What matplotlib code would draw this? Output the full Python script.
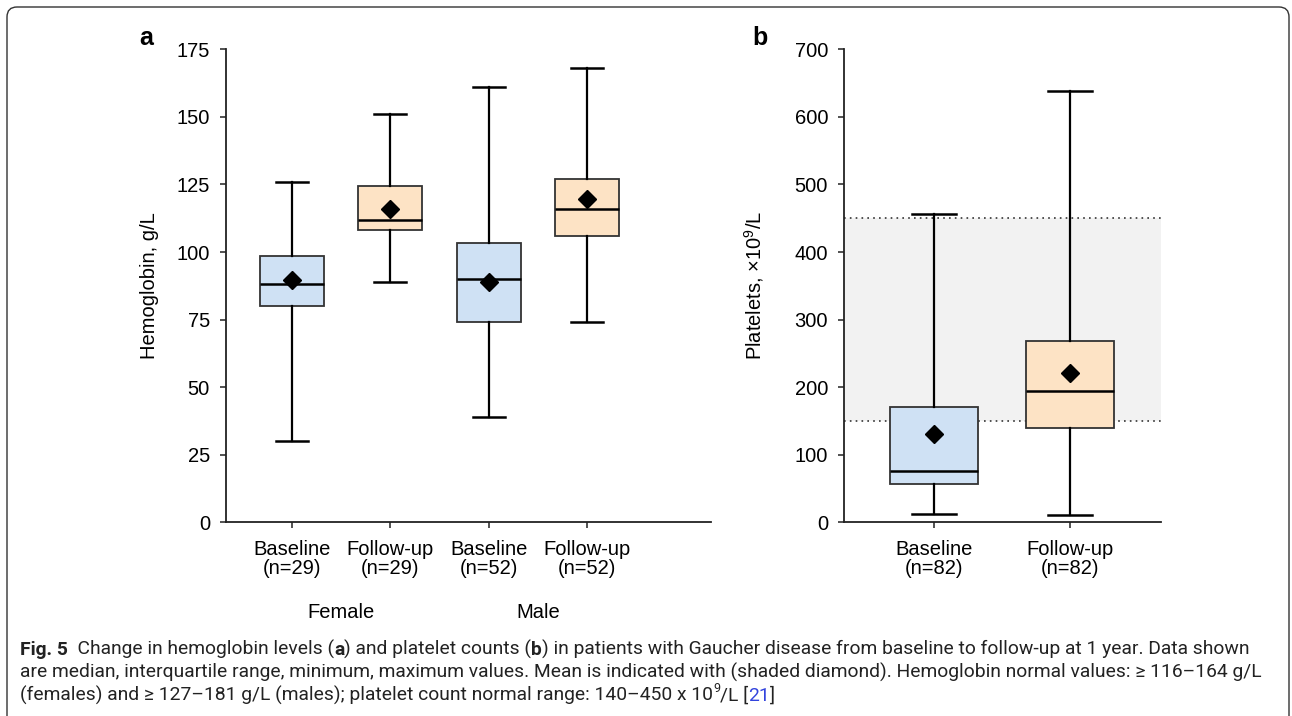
import matplotlib
matplotlib.use("Agg")
import matplotlib.pyplot as plt
from matplotlib import font_manager
from matplotlib.patches import FancyBboxPatch
from matplotlib.transforms import IdentityTransform

# Hemoglobin (panel a), g/L
hb_labels = ["Baseline\n(n=29)", "Follow-up\n(n=29)", "Baseline\n(n=52)", "Follow-up\n(n=52)"]
hb_groups = ["Female", "Male"]
hb_min = [30, 89, 39, 74]
hb_q1 = [80, 108, 74, 106]
hb_med = [88, 112, 90, 116]
hb_q3 = [98.5, 124.5, 103.5, 127]
hb_max = [126, 151, 161, 168]
hb_mean = [89.7, 116, 89, 119.6]

# Platelets (panel b), x10^9/L
pl_labels = ["Baseline\n(n=82)", "Follow-up\n(n=82)"]
pl_min = [13, 11]
pl_q1 = [56, 140]
pl_med = [76, 195]
pl_q3 = [171, 268]
pl_max = [457, 639]
pl_mean = [131, 221]
pl_normal = [150, 450]

BLUE = "#cfe1f4"
ORANGE = "#fde3c5"

plt.rcParams["font.family"] = ["Liberation Sans", "DejaVu Sans"]
plt.rcParams["mathtext.fontset"] = "custom"
plt.rcParams["mathtext.rm"] = "Liberation Sans"

names = {f.name for f in font_manager.fontManager.ttflist}
cap_font = "Liberation Sans Narrow" if "Liberation Sans Narrow" in names else "Roboto"

fig = plt.figure(figsize=(12.92, 7.16), dpi=100)
ax_a = fig.add_axes([0.1749, 0.2705, 0.3754, 0.6606])
ax_b = fig.add_axes([0.6533, 0.2705, 0.2451, 0.6606])


def make_stats(lo, q1, med, q3, hi, mean):
    return [dict(whislo=a, q1=b, med=c, q3=d, whishi=e, mean=f)
            for a, b, c, d, e, f in zip(lo, q1, med, q3, hi, mean)]


def draw_boxes(ax, stats, colors):
    pos = list(range(1, len(stats) + 1))
    res = ax.bxp(stats, positions=pos, widths=0.65, patch_artist=True,
                 showmeans=True, showfliers=False,
                 boxprops=dict(edgecolor="#333333", linewidth=1.3),
                 medianprops=dict(color="black", linewidth=1.8),
                 whiskerprops=dict(color="black", linewidth=1.6),
                 capprops=dict(color="black", linewidth=1.8),
                 meanprops=dict(marker="D", markerfacecolor="black",
                                markeredgecolor="black", markersize=9))
    for patch, c in zip(res["boxes"], colors):
        patch.set_facecolor(c)
    return pos


def style_axis(ax):
    for s in ["top", "right"]:
        ax.spines[s].set_visible(False)
    for s in ["left", "bottom"]:
        ax.spines[s].set_color("#222222")
        ax.spines[s].set_linewidth(1.3)
    ax.tick_params(axis="both", labelsize=14.5, length=4.5, width=1.1,
                   color="#222222")
    ax.tick_params(axis="y", pad=7)
    ax.tick_params(axis="x", pad=8)


# panel a
pos_a = draw_boxes(ax_a, make_stats(hb_min, hb_q1, hb_med, hb_q3, hb_max, hb_mean),
                   [BLUE, ORANGE, BLUE, ORANGE])
ax_a.set_xlim(0.33, 5.26)
ax_a.set_ylim(0, 175)
ax_a.set_yticks(range(0, 176, 25))
ax_a.set_xticks(pos_a)
ax_a.set_xticklabels(hb_labels, linespacing=1.05)
ax_a.set_ylabel("Hemoglobin, g/L", fontsize=14.5)
ax_a.yaxis.set_label_coords(-0.138, 0.5)
style_axis(ax_a)
for i, g in enumerate(hb_groups):
    xc = (pos_a[2 * i] + pos_a[2 * i + 1]) / 2
    ax_a.annotate(g, xy=(xc, -0.19), xycoords=("data", "axes fraction"),
                  ha="center", va="center", fontsize=14.5)

# panel b
ax_b.axhspan(pl_normal[0], pl_normal[1], color="#f2f2f2", zorder=0, lw=0)
for v in pl_normal:
    ax_b.axhline(v, color="#333333", linestyle=(0, (1, 2.5)), linewidth=1.2, zorder=0.5)
pos_b = draw_boxes(ax_b, make_stats(pl_min, pl_q1, pl_med, pl_q3, pl_max, pl_mean),
                   [BLUE, ORANGE])
ax_b.set_xlim(0.337, 2.67)
ax_b.set_ylim(0, 700)
ax_b.set_yticks(range(0, 701, 100))
ax_b.set_xticks(pos_b)
ax_b.set_xticklabels(pl_labels, linespacing=1.05)
ax_b.set_ylabel("Platelets, \u00d710$^{9}$/L", fontsize=14.5)
ax_b.yaxis.set_label_coords(-0.246, 0.5)
style_axis(ax_b)

# panel letters
fig.text(146 / 1292, 1 - 38 / 716, "a", fontsize=18, fontweight="bold", ha="center", va="center")
fig.text(760 / 1292, 1 - 38 / 716, "b", fontsize=18, fontweight="bold", ha="center", va="center")

# outer frame
frame = FancyBboxPatch((0.07, -0.5), 12.82, 7.59,
                       boxstyle="round,pad=0,rounding_size=0.1",
                       transform=fig.dpi_scale_trans, facecolor="none",
                       edgecolor="#333333", linewidth=1.0, clip_on=False)
fig.add_artist(frame)

# caption
caption = [
    [("Fig. 5", "bold"), ("  Change in hemoglobin levels (", "normal"), ("a", "bold"),
     (") and platelet counts (", "normal"), ("b", "bold"),
     (") in patients with Gaucher disease from baseline to follow-up at 1 year. Data shown", "normal")],
    [("are median, interquartile range, minimum, maximum values. Mean is indicated with (shaded diamond). "
      "Hemoglobin normal values: \u2265 116\u2013164 g/L", "normal")],
    [("(females) and \u2265 127\u2013181 g/L (males); platelet count normal range: 140\u2013450 x 10", "normal"),
     ("9", "sup"), ("/L [", "normal"), ("21", "link"), ("]", "normal")],
]
renderer = fig.canvas.get_renderer()


def draw_runs(runs, x0, y, fs):
    x = x0
    arts = []
    for txt, kind in runs:
        kw = dict(family=cap_font, va="baseline", ha="left",
                  transform=IdentityTransform(), color="#222222")
        yy = y
        size = fs
        if kind == "bold":
            kw["fontweight"] = "bold"
        elif kind == "sup":
            size = fs * 0.65
            yy = y + fs * 0.45 * 100 / 72
        elif kind == "link":
            kw["color"] = "#3344dd"
        t = fig.text(x, yy, txt, fontsize=size, **kw)
        x = t.get_window_extent(renderer).x1
        arts.append(t)
    return arts, x - x0


widest = 0
for line in caption[:2]:
    arts, w = draw_runs(line, 20, 716 - 655, 12)
    widest = max(widest, w)
    for a in arts:
        a.remove()
fs = 12 * 1242 / widest
for i, line in enumerate(caption):
    draw_runs(line, 20, 716 - 655 - 23 * i, fs)

fig.savefig("out.png", dpi=100)
